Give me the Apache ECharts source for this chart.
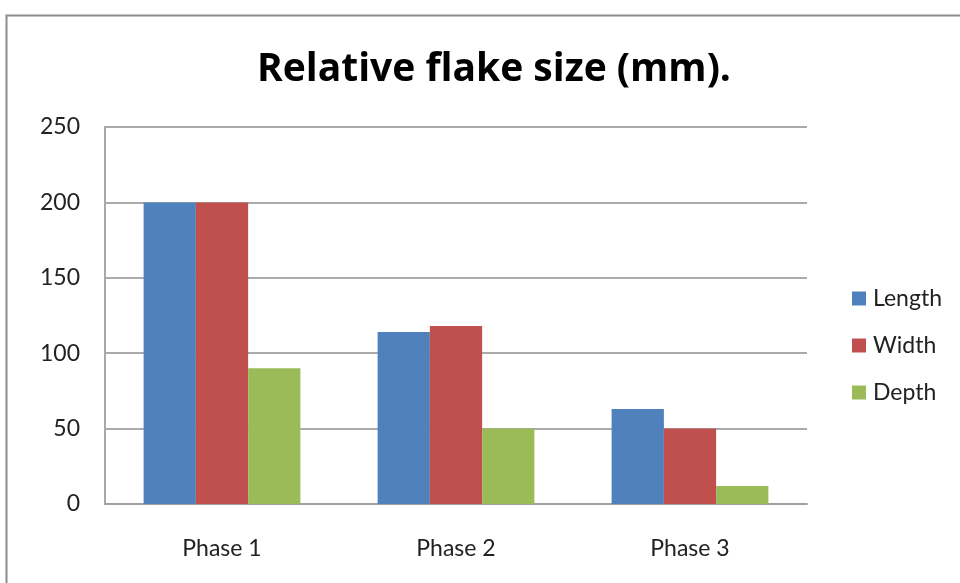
<!DOCTYPE html>
<html>
<head>
<meta charset="utf-8">
<script src="https://cdn.jsdelivr.net/npm/echarts@6/dist/echarts.min.js"></script>
<style>
    html, body { margin: 0; padding: 0; background: #fff; }
    #chart { width: 960px; height: 583px; }
</style>
</head>
<body>
<div id="chart"></div>
<script>
    // values
    var phases = ['Phase 1', 'Phase 2', 'Phase 3'];
    var lengthVals = [200, 114, 63];
    var widthVals = [200, 118, 50];
    var depthVals = [90, 50, 12];

    var font = 'Lato';
    var chart = echarts.init(document.getElementById('chart'));

    var option = {
        animation: false,
        backgroundColor: '#fff',
        title: {
            text: 'Relative flake size (mm).',
            left: 489,
            textAlign: 'center',
            top: 45,
            textStyle: { fontFamily: 'Open Sans', fontWeight: 'bold', fontSize: 39, color: '#000' }
        },
        graphic: [{
            type: 'rect',
            shape: { x: 6.5, y: 15.5, width: 1000, height: 1000 },
            style: { fill: 'none', stroke: '#8c8c8c', lineWidth: 2 }
        }],
        legend: {
            orient: 'vertical',
            left: 847,
            top: 282,
            itemWidth: 14,
            itemHeight: 14,
            itemGap: 24,
            icon: 'rect',
            textStyle: { fontFamily: font, fontSize: 23, color: '#222', padding: [0, 0, 0, 2] },
            data: ['Length', 'Width', 'Depth']
        },
        grid: { left: 105, right: 153, top: 127, bottom: 79, containLabel: false },
        xAxis: {
            type: 'category',
            data: phases,
            axisLine: { lineStyle: { color: '#a0a0a0', width: 2 } },
            axisTick: { show: false },
            axisLabel: { margin: 33, fontFamily: font, fontSize: 23, color: '#222' }
        },
        yAxis: {
            type: 'value',
            min: 0,
            max: 250,
            interval: 50,
            axisLine: { show: true, lineStyle: { color: '#a8a8a8', width: 2 } },
            axisTick: { show: false },
            axisLabel: { margin: 25, fontFamily: font, fontSize: 23, color: '#222' },
            splitLine: { lineStyle: { color: '#ababab', width: 2 } }
        },
        series: [
            { name: 'Length', type: 'bar', data: lengthVals, barGap: 0, barCategoryGap: '33%', itemStyle: { color: '#4f81bd' } },
            { name: 'Width', type: 'bar', data: widthVals, itemStyle: { color: '#c0504d' } },
            { name: 'Depth', type: 'bar', data: depthVals, itemStyle: { color: '#9bbb59' } }
        ]
    };
    chart.setOption(option);
</script>
</body>
</html>
